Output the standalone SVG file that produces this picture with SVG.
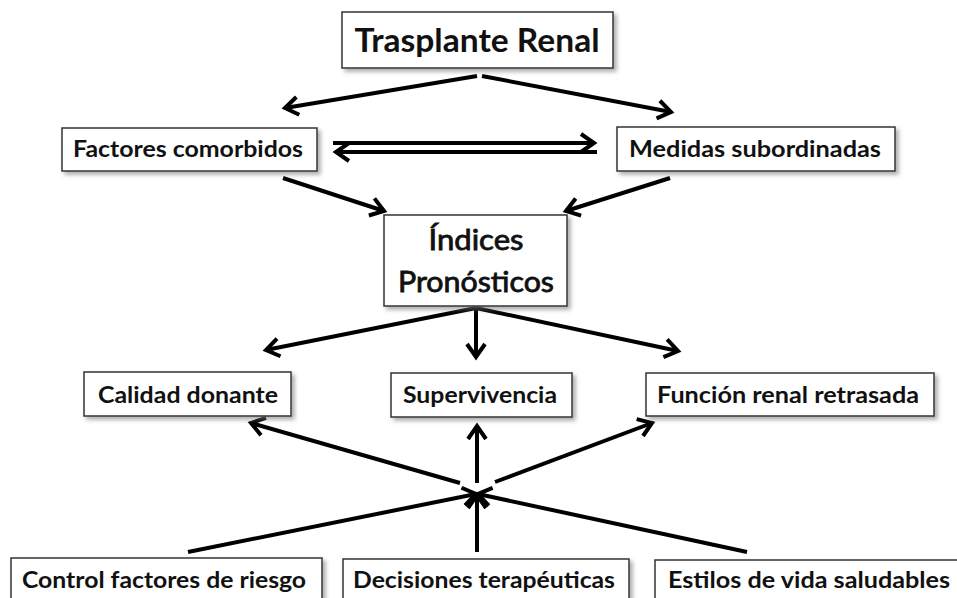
<svg xmlns="http://www.w3.org/2000/svg" width="957" height="598" viewBox="0 0 957 598">
<style>
.box{fill:#fff;stroke:#333;stroke-width:1.5;filter:url(#sh)}
.t{font-family:Lato,"Liberation Sans",sans-serif;font-weight:bold;fill:#111;text-anchor:middle}
.s{font-size:22px}
.r{font-weight:normal;font-size:28px;stroke:#111;stroke-width:0.8}
.c line{stroke:#000;stroke-width:4;marker-end:url(#ah)}
</style>
<defs>
<filter id="sh" x="-10%" y="-10%" width="130%" height="140%">
<feDropShadow dx="3" dy="3" stdDeviation="2" flood-color="#777" flood-opacity="0.6"/>
</filter>
<marker id="ah" markerUnits="userSpaceOnUse" markerWidth="30" markerHeight="30" refX="0" refY="0" viewBox="-20 -15 30 30" orient="auto" overflow="visible">
<path d="M-13,-9 L0,0 L-13,9" fill="none" stroke="#000" stroke-width="4" stroke-linejoin="miter"/>
</marker>
</defs>
<g class="c" id="connectors">
<line x1="477" y1="76" x2="285" y2="108"/>
<line x1="482" y1="76" x2="671" y2="112"/>
<line x1="333" y1="143" x2="594" y2="143"/>
<line x1="597" y1="152" x2="336" y2="152"/>
<line x1="283" y1="178" x2="384" y2="211"/>
<line x1="670" y1="178" x2="566" y2="211"/>
<line x1="476" y1="308" x2="266" y2="350"/>
<line x1="476" y1="308" x2="476" y2="357"/>
<line x1="476" y1="308" x2="678" y2="351"/>
<line x1="460" y1="483" x2="251" y2="423"/>
<line x1="477" y1="483" x2="477" y2="426"/>
<line x1="495" y1="482" x2="652" y2="423"/>
<line x1="188" y1="552" x2="476" y2="494"/>
<line x1="477" y1="552" x2="477" y2="495"/>
<line x1="747" y1="552" x2="478" y2="494"/>
</g>
<g id="trasplante">
<rect class="box" x="342" y="12" width="271" height="56"/>
<text class="t" x="477" y="52" font-size="33" textLength="245" lengthAdjust="spacingAndGlyphs">Trasplante Renal</text>
</g>
<g id="factores">
<rect class="box" x="62" y="128" width="255" height="43"/>
<text class="t s" x="188" y="157" textLength="230" lengthAdjust="spacingAndGlyphs">Factores comorbidos</text>
</g>
<g id="medidas">
<rect class="box" x="617" y="127" width="278" height="44"/>
<text class="t s" x="755" y="157" textLength="252" lengthAdjust="spacingAndGlyphs">Medidas subordinadas</text>
</g>
<g id="indices">
<rect class="box" x="384" y="215" width="183" height="91"/>
<text class="t r" x="476" y="250" textLength="95" lengthAdjust="spacingAndGlyphs">Índices</text>
<text class="t r" x="476" y="292" textLength="156" lengthAdjust="spacingAndGlyphs">Pronósticos</text>
</g>
<g id="calidad">
<rect class="box" x="84" y="372" width="207" height="44"/>
<text class="t s" x="188" y="403" textLength="180" lengthAdjust="spacingAndGlyphs">Calidad donante</text>
</g>
<g id="supervivencia">
<rect class="box" x="391" y="373" width="181" height="44"/>
<text class="t s" x="480" y="403" textLength="154" lengthAdjust="spacingAndGlyphs">Supervivencia</text>
</g>
<g id="funcion">
<rect class="box" x="646" y="373" width="288" height="43"/>
<text class="t s" x="788" y="403" textLength="262" lengthAdjust="spacingAndGlyphs">Función renal retrasada</text>
</g>
<g id="control">
<rect class="box" x="11" y="558" width="311" height="50"/>
<text class="t s" x="164" y="588" textLength="284" lengthAdjust="spacingAndGlyphs">Control factores de riesgo</text>
</g>
<g id="decisiones">
<rect class="box" x="343" y="559" width="286" height="50"/>
<text class="t s" x="484" y="588" textLength="262" lengthAdjust="spacingAndGlyphs">Decisiones terapéuticas</text>
</g>
<g id="estilos">
<rect class="box" x="655" y="560" width="310" height="50"/>
<text class="t s" x="809" y="588" textLength="282" lengthAdjust="spacingAndGlyphs">Estilos de vida saludables</text>
</g>
</svg>
